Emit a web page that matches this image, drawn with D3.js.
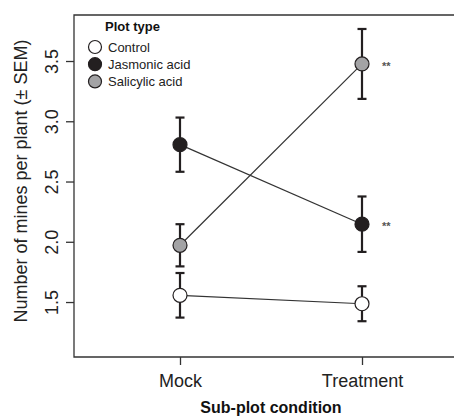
<!DOCTYPE html>
<html>
<head>
<meta charset="utf-8">
<script src="https://cdn.jsdelivr.net/npm/d3@7"></script>
<style>
  body { margin: 0; background: #fff; }
  svg { display: block; font-family: "Liberation Sans", Arial, sans-serif; }
</style>
</head>
<body>
<div id="chart"></div>
<script>
// data
let conditions = ["Mock", "Treatment"];
let seriesNames = ["Control", "Jasmonic acid", "Salicylic acid"];
let controlMean = [1.56, 1.49];
let controlSem = [0.185, 0.145];
let jasmonicMean = [2.81, 2.15];
let jasmonicSem = [0.225, 0.23];
let salicylicMean = [1.975, 3.48];
let salicylicSem = [0.175, 0.29];
let yTicks = [1.5, 2.0, 2.5, 3.0, 3.5];
let stars = ["", "**"];   // significance mark at Treatment

let width = 454;
let height = 416;
let fills = ["#ffffff", "#231f20", "#a3a3a5"];
let ink = "#231f20";

let series = [
  { name: seriesNames[0], mean: controlMean, sem: controlSem, fill: fills[0] },
  { name: seriesNames[1], mean: jasmonicMean, sem: jasmonicSem, fill: fills[1] },
  { name: seriesNames[2], mean: salicylicMean, sem: salicylicSem, fill: fills[2] }
];

let svg = d3.select("#chart")
  .append("svg")
  .attr("width", width)
  .attr("height", height);

let plotLeft = 74, plotTop = 15, plotBottom = 357;

let X = d3.scalePoint()
  .domain(conditions)
  .range([180, 362]);

let Y = d3.scaleLinear()
  .domain([1.048, 3.886])
  .range([plotBottom, plotTop]);

// frame (the right side is cut off in the original)
svg.append("path")
  .attr("d", "M" + width + "," + plotTop + "H" + plotLeft + "V" + plotBottom + "H" + width)
  .attr("fill", "none")
  .attr("stroke", "#333")
  .attr("stroke-width", 1.3);

// y axis
let yAxis = svg.append("g")
  .attr("transform", "translate(" + plotLeft + ",0)")
  .call(d3.axisLeft(Y).tickValues(yTicks).tickFormat(d3.format(".1f")).tickSize(8));
yAxis.select(".domain").remove();
yAxis.selectAll("line").attr("stroke", "#333").attr("stroke-width", 1.3);
yAxis.selectAll(".tick").attr("transform", null);
yAxis.selectAll(".tick line")
  .attr("y1", d => Y(d)).attr("y2", d => Y(d));
yAxis.selectAll("text")
  .attr("x", null).attr("dy", null).attr("y", null)
  .attr("transform", d => "translate(-16," + Y(d) + ") rotate(-90)")
  .attr("text-anchor", "middle")
  .attr("font-size", 18)
  .attr("font-family", "Liberation Sans, Arial, sans-serif")
  .attr("fill", "#222");

// x axis
let xAxis = svg.append("g")
  .attr("transform", "translate(0," + plotBottom + ")")
  .call(d3.axisBottom(X).tickSize(8).tickPadding(9));
xAxis.select(".domain").remove();
xAxis.selectAll("line").attr("stroke", "#333").attr("stroke-width", 1.3);
xAxis.selectAll("text")
  .attr("font-size", 18)
  .attr("font-family", "Liberation Sans, Arial, sans-serif")
  .attr("fill", "#222");

// axis titles
svg.append("text")
  .attr("transform", "translate(27,181) rotate(-90)")
  .attr("text-anchor", "middle")
  .attr("font-size", 18)
  .attr("fill", "#222")
  .text("Number of mines per plant (\u00b1 SEM)");

svg.append("text")
  .attr("x", 271)
  .attr("y", 413)
  .attr("text-anchor", "middle")
  .attr("font-size", 16)
  .attr("font-weight", "bold")
  .attr("fill", "#111")
  .text("Sub-plot condition");

// lines between the two conditions
let line = d3.line()
  .x((d, i) => X(conditions[i]))
  .y(d => Y(d));

svg.selectAll(".conn")
  .data(series)
  .join("path")
  .attr("class", "conn")
  .attr("d", d => line(d.mean))
  .attr("fill", "none")
  .attr("stroke", "#333")
  .attr("stroke-width", 1.2);

// error bars and points
series.forEach(function (s) {
  let g = svg.append("g");
  s.mean.forEach(function (m, i) {
    let x = X(conditions[i]);
    let y1 = Y(m + s.sem[i]);
    let y2 = Y(m - s.sem[i]);
    g.append("line")
      .attr("x1", x).attr("x2", x)
      .attr("y1", y1).attr("y2", y2)
      .attr("stroke", ink).attr("stroke-width", 2.2);
    [y1, y2].forEach(function (yy) {
      g.append("line")
        .attr("x1", x - 4.5).attr("x2", x + 4.5)
        .attr("y1", yy).attr("y2", yy)
        .attr("stroke", ink).attr("stroke-width", 2.2);
    });
    g.append("circle")
      .attr("cx", x)
      .attr("cy", Y(m))
      .attr("r", 7)
      .attr("fill", s.fill)
      .attr("stroke", ink)
      .attr("stroke-width", 1.2);
  });
});

// significance stars
svg.selectAll(".star")
  .data(series.filter(s => s.name !== "Control"))
  .join("text")
  .attr("class", "star")
  .attr("x", X("Treatment") + 20)
  .attr("y", d => Y(d.mean[1]) + 6)
  .attr("font-size", 11)
  .attr("font-weight", "bold")
  .attr("fill", "#555")
  .text(stars[1]);

// legend
let legend = svg.append("g");
legend.append("text")
  .attr("x", 105)
  .attr("y", 31)
  .attr("font-size", 13)
  .attr("font-weight", "bold")
  .attr("fill", "#111")
  .text("Plot type");

let items = legend.selectAll(".item")
  .data(series)
  .join("g")
  .attr("class", "item")
  .attr("transform", (d, i) => "translate(95," + (47 + i * 17.2) + ")");
items.append("circle")
  .attr("r", 6.5)
  .attr("fill", d => d.fill)
  .attr("stroke", ink)
  .attr("stroke-width", 1.2);
items.append("text")
  .attr("x", 13)
  .attr("y", 4.5)
  .attr("font-size", 13)
  .attr("fill", "#222")
  .text(d => d.name);
</script>
</body>
</html>
